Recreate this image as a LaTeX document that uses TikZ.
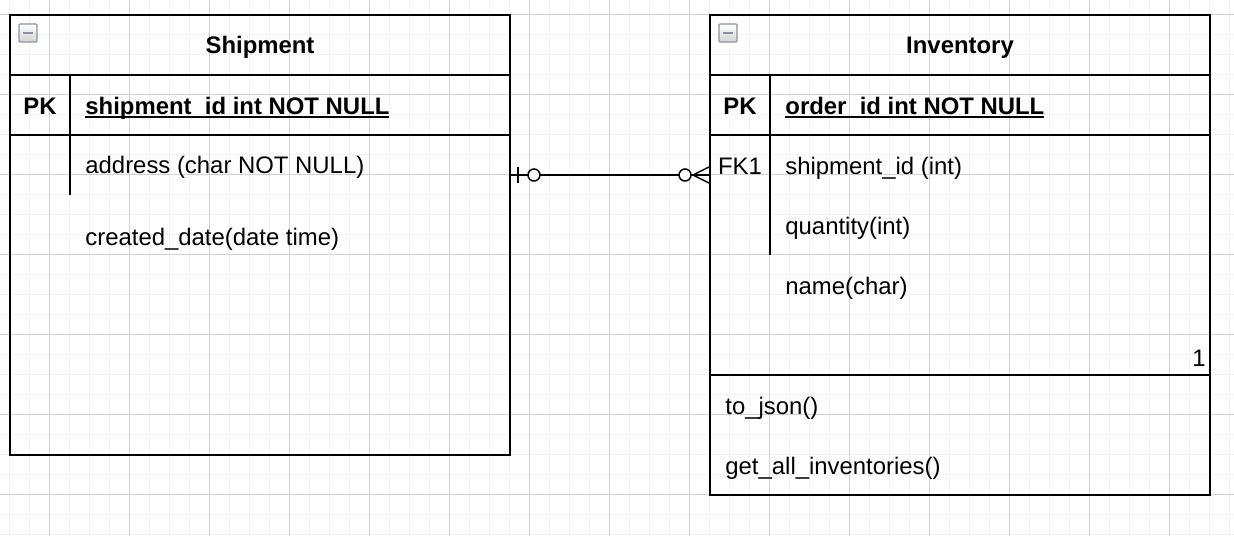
\documentclass[tikz,border=0pt]{standalone}
\usepackage{fontspec}
\setmainfont{Liberation Sans}
\usepackage{tikz}
\usetikzlibrary{arrows}
\definecolor{gridminor}{HTML}{F2F2F2}
\definecolor{gridmajor}{HTML}{D2D2D2}
\definecolor{iconedge}{HTML}{8A93A6}
\newcommand{\keyfield}[1]{\sbox0{\bfseries #1}\rlap{\rule[-1.8pt]{\wd0}{0.6pt}}\usebox0}

\tikzset{
	er/.style={draw, line width=1pt},
	rule/.style={line width=1pt},
	field/.style={inner sep=0pt, anchor=base west, font=\fontsize{11.95pt}{14pt}\selectfont},
	key/.style={field, anchor=base, font=\fontsize{11.95pt}{14pt}\selectfont\bfseries},
	icon/.style={draw=iconedge, line width=0.6pt, minimum size=9pt, inner sep=0pt,
		top color=white, bottom color=gray!35, rounded corners=0.5pt,
		path picture={\draw[line width=1pt] ([xshift=-2.7pt]path picture bounding box.center)
			-- ([xshift=2.7pt]path picture bounding box.center);}},
	conn/.style={line width=0.75pt}
}

\begin{document}
\begin{tikzpicture}[x=0.5pt, y=-0.5pt]
	\useasboundingbox (0,0) rectangle (1234,536);
	\fill[white] (0,0) rectangle (1234,536);
	% grid
	\foreach \x in {9.5,29.5,...,1229.5} \draw[gridminor, line width=0.5pt] (\x,0) -- (\x,536);
	\foreach \y in {14.5,34.5,...,534.5} \draw[gridminor, line width=0.5pt] (0,\y) -- (1234,\y);
	\foreach \x in {49.5,129.5,...,1169.5} \draw[gridmajor, line width=0.5pt] (\x,0) -- (\x,536);
	\foreach \y in {14.5,94.5,...,494.5} \draw[gridmajor, line width=0.5pt] (0,\y) -- (1234,\y);

	% Shipment
	\node[er, minimum width=250pt, minimum height=220pt] (ship) at (260,235) {};
	\node[icon] (shipicon) at (28,33) {};
	\node[key] (shiptitle) at (260,53.5) {Shipment};
	\draw[rule] (10,75) -- (510,75) (10,135) -- (510,135) (70,75) -- (70,195);
	\node[key] (shippk) at (40,114) {PK};
	\node[field] (shipid) at (85,114) {\keyfield{shipment\_id int NOT NULL}};
	\node[field] (shipaddr) at (85,173.5) {address (char NOT NULL)};
	\node[field] (shipdate) at (85,245) {created\_date(date time)};

	% Inventory
	\node[er, minimum width=250pt, minimum height=240pt] (inv) at (960,255) {};
	\node[icon] (invicon) at (728,33) {};
	\node[key] (invtitle) at (960,53.5) {Inventory};
	\draw[rule] (710,75) -- (1210,75) (710,135) -- (1210,135) (770,75) -- (770,255)
		(710,375) -- (1210,375);
	\node[key] (invpk) at (740,114) {PK};
	\node[field] (invid) at (785,114) {\keyfield{order\_id int NOT NULL}};
	\node[field, anchor=base] (invfk) at (740,174) {FK1};
	\node[field] (invship) at (785,174) {shipment\_id (int)};
	\node[field] (invqty) at (785,234) {quantity(int)};
	\node[field] (invname) at (785,294) {name(char)};
	\node[field, anchor=base east] (invmult) at (1206,366.5) {1};
	\node[field] (invjson) at (725,414) {to\_json()};
	\node[field] (invall) at (725,474) {get\_all\_inventories()};

	% relation
	\coordinate (rel) at (610,175);
	\coordinate (relL) at (ship.east |- rel);
	\coordinate (relR) at (inv.west |- rel);
	\draw[conn] (relL) -- (relR);
	\draw[conn] (relL) ++(7,-8) -- ++(0,16);
	\draw[conn, fill=white] (relL) ++(23,0) circle (3pt);
	\draw[conn] (relR) ++(0,-8) -- ++(-16,8) -- ++(16,8);
	\draw[conn, fill=white] (relR) ++(-24,0) circle (3pt);
\end{tikzpicture}
\end{document}
